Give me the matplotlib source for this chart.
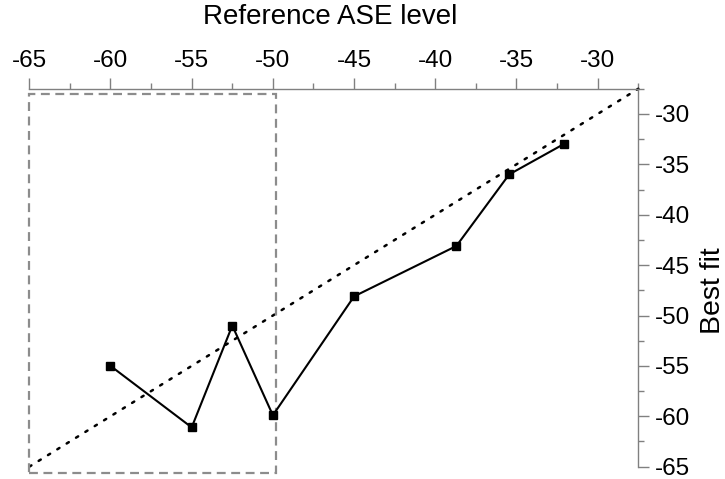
import matplotlib
matplotlib.use("Agg")
import matplotlib.pyplot as plt
from matplotlib.ticker import MultipleLocator
from matplotlib.patches import Rectangle

plt.rcParams["font.family"] = ["Liberation Sans", "DejaVu Sans"]

# Measured vs. fitted ASE level (dB)
reference_level = [-60.0, -55.0, -52.5, -50.0, -45.0, -38.7, -35.45, -32.1]
best_fit = [-55.0, -61.1, -51.0, -59.9, -48.1, -43.1, -36.0, -33.0]

axis_min, axis_max = -65.0, -27.5
highlight_x = (-65.0, -49.8)
highlight_y = (-65.6, -28.0)

tick_values = [-65, -60, -55, -50, -45, -40, -35, -30]
tick_labels = ["-65", "-60", "-55", "-50", "-45", "-40", "-35", "-30"]

spine_grey = "#808080"

fig = plt.figure(figsize=(7.25, 4.79), dpi=100)
ax = fig.add_axes([0.0404, 0.0257, 0.84, 0.789])

# identity reference line
ax.plot([axis_min, axis_max], [axis_min, axis_max], color="black",
        linestyle=(0, (1, 3.4)), linewidth=1.8, dash_capstyle="round",
        clip_on=False)

# fitted values
ax.plot(reference_level, best_fit, color="black", linewidth=1.5,
        marker="s", markersize=6, markerfacecolor="black",
        markeredgecolor="black", clip_on=False, zorder=3)

# region of interest
ax.add_patch(Rectangle((highlight_x[0], highlight_y[0]),
                       highlight_x[1] - highlight_x[0],
                       highlight_y[1] - highlight_y[0],
                       fill=False, edgecolor="#8c8c8c", linewidth=1.6,
                       linestyle=(0, (4, 2.5)), clip_on=False, zorder=2))

ax.set_xlim(axis_min, axis_max)
ax.set_ylim(axis_min, axis_max)

ax.xaxis.set_ticks_position("top")
ax.xaxis.set_label_position("top")
ax.yaxis.set_ticks_position("right")
ax.yaxis.set_label_position("right")

for side in ("left", "bottom"):
    ax.spines[side].set_visible(False)
for side in ("top", "right"):
    ax.spines[side].set_color(spine_grey)
    ax.spines[side].set_linewidth(1.0)

ax.xaxis.set_minor_locator(MultipleLocator(2.5))
ax.yaxis.set_minor_locator(MultipleLocator(2.5))

ax.set_xticks(tick_values)
ax.set_yticks(tick_values)
ax.set_xticklabels(tick_labels)
ax.set_yticklabels(tick_labels)

ax.tick_params(which="major", direction="out", length=8, width=1.0,
               color=spine_grey, labelsize=17.5, pad=4)
ax.tick_params(which="minor", direction="out", length=4, width=1.0,
               color=spine_grey)

ax.set_xlabel("Reference ASE level", fontsize=20, va="center")
ax.xaxis.set_label_coords(0.494, 1.19)
ax.set_ylabel("Best fit", fontsize=20.5, rotation=90, va="center")
ax.yaxis.set_label_coords(1.122, 0.467)

fig.savefig("out.png", dpi=100)
